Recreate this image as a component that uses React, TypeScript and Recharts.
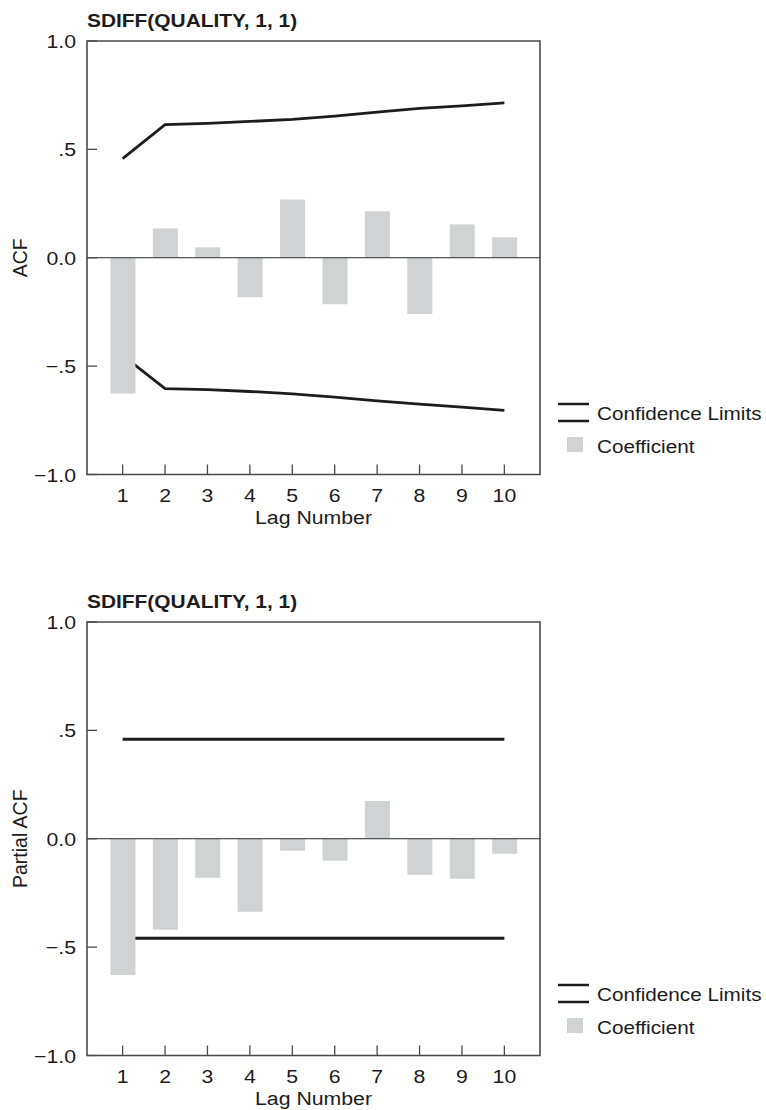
import React from "react"
import {
  Bar,
  ComposedChart,
  Label,
  Line,
  ReferenceArea,
  ReferenceLine,
  XAxis,
  YAxis
} from "recharts"

const lags = [1, 2, 3, 4, 5, 6, 7, 8, 9, 10]

// ACF panel
const acfCoef = [-0.626, 0.135, 0.048, -0.182, 0.269, -0.214, 0.214, -0.26, 0.154, 0.094]
const acfUpper = [0.457, 0.614, 0.62, 0.629, 0.638, 0.653, 0.672, 0.689, 0.701, 0.715]
const acfLower = [-0.45, -0.604, -0.608, -0.617, -0.628, -0.643, -0.66, -0.675, -0.689, -0.704]

// Partial ACF panel
const pacfCoef = [-0.629, -0.42, -0.18, -0.337, -0.055, -0.101, 0.174, -0.166, -0.185, -0.069]
const pacfUpper = [0.459, 0.459, 0.459, 0.459, 0.459, 0.459, 0.459, 0.459, 0.459, 0.459]
const pacfLower = [-0.459, -0.459, -0.459, -0.459, -0.459, -0.459, -0.459, -0.459, -0.459, -0.459]

const yTicks = [-1, -0.5, 0, 0.5, 1]
const yTickLabels = ["\u22121.0", "\u2212.5", "0.0", ".5", "1.0"]

const seriesTitle = "SDIFF(QUALITY, 1, 1)"

const FONT = '"Liberation Sans", Arial, Helvetica, sans-serif'
const INK = "#1c1c1c"
const BAR_FILL = "#d1d2d4"
const FRAME = "#4a4a4a"
const STRETCH = 1.12

const W = 766
const H = 560

function buildRows(coef: number[], upper: number[], lower: number[]) {
  return lags.map((lag, i) => ({
    lag,
    coef: coef[i],
    upper: upper[i],
    lower: lower[i]
  }))
}

function XTick(props: any) {
  const { x, y, payload } = props
  return (
    <g>
      <line x1={x} x2={x} y1={y} y2={y - 10} stroke={FRAME} strokeWidth={1.3} />
      <text
        transform={`translate(${x},${y + 27}) scale(${STRETCH},1)`}
        textAnchor="middle"
        fontFamily={FONT}
        fontSize={19}
        fill={INK}>
        {payload.value}
      </text>
    </g>
  )
}

function YTick(props: any) {
  const { x, y, payload } = props
  const idx = yTicks.indexOf(payload.value)
  return (
    <g>
      <line x1={x} x2={x + 10} y1={y} y2={y} stroke={FRAME} strokeWidth={1.3} />
      <text
        transform={`translate(${x - 11},${y + 7}) scale(${STRETCH},1)`}
        textAnchor="end"
        fontFamily={FONT}
        fontSize={19}
        fill={INK}>
        {yTickLabels[idx]}
      </text>
    </g>
  )
}

function Panel(props: {
  coef: number[]
  upper: number[]
  lower: number[]
  yLabel: string
}) {
  const { coef, upper, lower, yLabel } = props
  const data = buildRows(coef, upper, lower)

  return (
    <div style={{ position: "relative", width: W, height: 581 }}>
      <ComposedChart
        width={W}
        height={H}
        data={data}
        margin={{ top: 41, right: 226, bottom: 25.5, left: 27 }}>
        <XAxis
          dataKey="lag"
          type="number"
          domain={[0.16, 10.84]}
          ticks={lags}
          allowDataOverflow
          height={60}
          axisLine={false}
          tickLine={false}
          tickSize={0}
          tickMargin={0}
          interval={0}
          tick={<XTick />}>
          <Label
            content={(p: any) => {
              const vb = p.viewBox
              return (
                <text
                  transform={`translate(${vb.x + vb.width / 2},${vb.y + 49.5}) scale(${STRETCH},1)`}
                  textAnchor="middle"
                  fontFamily={FONT}
                  fontSize={19}
                  fill={INK}>
                  Lag Number
                </text>
              )
            }}
          />
        </XAxis>
        <YAxis
          type="number"
          domain={[-1, 1]}
          ticks={yTicks}
          width={60}
          axisLine={false}
          tickLine={false}
          tickSize={0}
          tickMargin={0}
          interval={0}
          tick={<YTick />}>
          <Label
            content={(p: any) => {
              const vb = p.viewBox
              return (
                <text
                  transform={`translate(${vb.x},${vb.y + vb.height / 2}) rotate(-90)`}
                  textAnchor="middle"
                  fontFamily={FONT}
                  fontSize={19.5}
                  fill={INK}>
                  {yLabel}
                </text>
              )
            }}
          />
        </YAxis>
        <ReferenceArea
          y1={-1}
          y2={1}
          fill="none"
          stroke={FRAME}
          strokeWidth={1.6}
          ifOverflow="visible"
        />
        {/* limits sit under the bars, as in the original */}
        <Line
          dataKey="upper"
          type="linear"
          stroke={INK}
          strokeWidth={2.8}
          dot={false}
          activeDot={false}
          zIndex={250}
          isAnimationActive={false}
        />
        <Line
          dataKey="lower"
          type="linear"
          stroke={INK}
          strokeWidth={2.8}
          dot={false}
          activeDot={false}
          zIndex={250}
          isAnimationActive={false}
        />
        <Bar
          dataKey="coef"
          fill={BAR_FILL}
          barSize={25}
          zIndex={300}
          isAnimationActive={false}
        />
        <ReferenceLine y={0} stroke="#2a2a2a" strokeWidth={1.2} />
      </ComposedChart>
      <svg
        width={W}
        height={581}
        style={{ position: "absolute", left: 0, top: 0, pointerEvents: "none" }}>
        <text
          transform={`translate(87,27) scale(1.1,1)`}
          fontFamily={FONT}
          fontSize={19}
          fontWeight="bold"
          fill={INK}>
          {seriesTitle}
        </text>
        <line x1={558} x2={589} y1={404} y2={404} stroke={INK} strokeWidth={2.5} />
        <line x1={558} x2={589} y1={421} y2={421} stroke={INK} strokeWidth={2.5} />
        <text
          transform={`translate(597,420) scale(${STRETCH},1)`}
          fontFamily={FONT}
          fontSize={18.5}
          fill={INK}>
          Confidence Limits
        </text>
        <rect x={567} y={437} width={16} height={15} fill={BAR_FILL} />
        <text
          transform={`translate(597,453) scale(${STRETCH},1)`}
          fontFamily={FONT}
          fontSize={18.5}
          fill={INK}>
          Coefficient
        </text>
      </svg>
    </div>
  )
}

export default function App() {
  return (
    <div
      style={{
        position: "absolute",
        left: 0,
        top: 0,
        width: W,
        height: 1110,
        background: "#fff"
      }}>
      <Panel coef={acfCoef} upper={acfUpper} lower={acfLower} yLabel="ACF" />
      <Panel coef={pacfCoef} upper={pacfUpper} lower={pacfLower} yLabel="Partial ACF" />
    </div>
  )
}
